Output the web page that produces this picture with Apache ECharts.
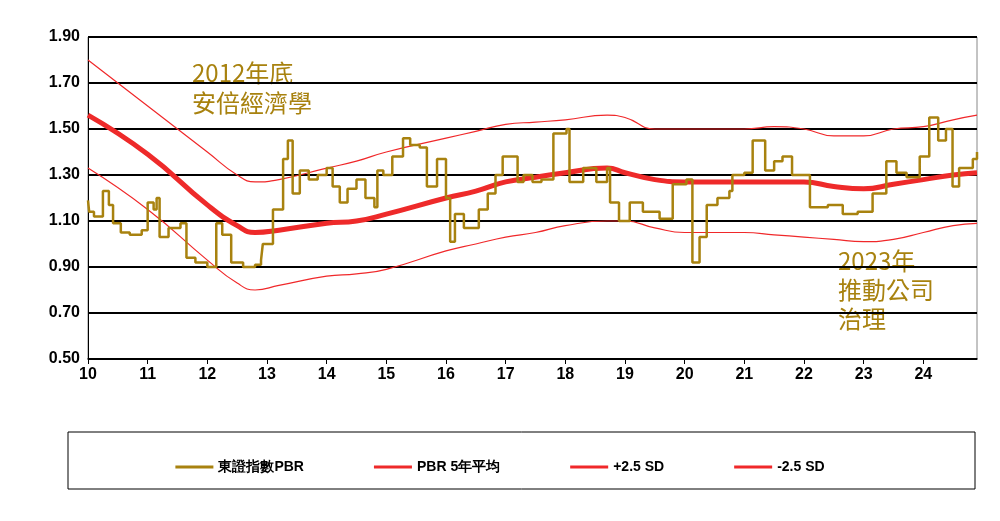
<!DOCTYPE html><html><head><meta charset="utf-8"><script src="https://cdn.jsdelivr.net/npm/echarts@6/dist/echarts.min.js"></script></head><body style="margin:0"><div id="c" style="width:1000px;height:521px"></div><script>
const pbrX=[10,10.02,10.1,10.25,10.35,10.42,10.55,10.7,10.9,11.0,11.1,11.15,11.2,11.35,11.55,11.65,11.8,12.0,12.15,12.25,12.4,12.6,12.8,12.9,12.93,13.1,13.27,13.35,13.43,13.55,13.7,13.85,14.0,14.1,14.22,14.35,14.5,14.65,14.8,14.85,14.95,15.1,15.28,15.4,15.56,15.68,15.85,16.0,16.07,16.15,16.3,16.55,16.7,16.83,16.95,17.2,17.3,17.45,17.6,17.8,18.02,18.07,18.3,18.52,18.7,18.75,18.9,19.08,19.3,19.58,19.8,20.03,20.13,20.25,20.37,20.55,20.75,20.8,21.0,21.14,21.35,21.5,21.64,21.8,22.1,22.4,22.65,22.9,23.15,23.38,23.55,23.72,23.94,24.1,24.25,24.38,24.49,24.6,24.83,24.9];
const pbrY=[1.19,1.14,1.12,1.23,1.17,1.09,1.05,1.04,1.06,1.18,1.15,1.20,1.03,1.07,1.09,0.94,0.92,0.90,1.09,1.04,0.92,0.90,0.91,0.93,1.00,1.15,1.37,1.45,1.22,1.32,1.28,1.30,1.33,1.25,1.18,1.24,1.28,1.20,1.16,1.32,1.30,1.38,1.46,1.43,1.42,1.25,1.37,1.20,1.01,1.13,1.07,1.15,1.22,1.30,1.38,1.27,1.30,1.27,1.28,1.48,1.50,1.27,1.33,1.27,1.33,1.18,1.10,1.18,1.14,1.11,1.26,1.28,0.92,1.03,1.17,1.20,1.23,1.30,1.31,1.45,1.32,1.36,1.38,1.30,1.16,1.17,1.13,1.14,1.22,1.36,1.31,1.29,1.38,1.55,1.45,1.50,1.25,1.33,1.37,1.40];
const bandX=[10,11,12,12.5,12.8,13.2,14,14.5,15,16,16.5,17,17.5,18,18.7,19,19.5,20,20.5,21,21.5,22,22.5,23,23.5,24,24.5,24.9];
const avgY=[1.56,1.39,1.17,1.08,1.05,1.06,1.09,1.10,1.13,1.20,1.23,1.27,1.29,1.31,1.33,1.31,1.28,1.27,1.27,1.27,1.27,1.27,1.25,1.24,1.26,1.28,1.30,1.31];
const upY=[1.80,1.60,1.40,1.30,1.27,1.28,1.33,1.36,1.40,1.46,1.49,1.52,1.53,1.54,1.56,1.55,1.50,1.50,1.50,1.50,1.51,1.50,1.47,1.47,1.50,1.51,1.54,1.56];
const loY=[1.33,1.15,0.93,0.83,0.80,0.82,0.86,0.87,0.89,0.97,1.00,1.03,1.05,1.08,1.10,1.10,1.07,1.05,1.05,1.05,1.04,1.03,1.02,1.01,1.02,1.05,1.08,1.09];
const zip=(a,b)=>a.map((x,i)=>[x,b[i]]);
const gold='#A8820F';
const c=echarts.init(document.getElementById('c'));
c.setOption({animation:false,
grid:{left:88,top:37,right:23,bottom:162,show:true,borderColor:'#888',borderWidth:1},
xAxis:{type:'value',min:10,max:24.9,interval:1,axisLine:{lineStyle:{color:'#000',width:1.5}},axisTick:{lineStyle:{color:'#000'}},splitLine:{show:false},axisLabel:{showMaxLabel:false,color:'#000',fontWeight:'bold',fontSize:16,fontFamily:'Liberation Sans'}},
yAxis:{type:'value',min:0.5,max:1.9,interval:0.2,axisLine:{show:true,lineStyle:{color:'#000'}},axisTick:{show:false},splitLine:{lineStyle:{color:'#000',width:2}},axisLabel:{formatter:v=>v.toFixed(2),color:'#000',fontWeight:'bold',fontSize:16,fontFamily:'Liberation Sans'}},
legend:{bottom:42,left:'center',itemGap:70,textStyle:{color:'#000',fontWeight:'bold',fontSize:14,fontFamily:'Liberation Sans'},
data:[{name:'東證指數PBR',icon:'rect',itemStyle:{color:gold}},{name:'PBR 5年平均',icon:'rect'},{name:'+2.5 SD',icon:'rect'},{name:'-2.5 SD',icon:'rect'}]},
graphic:[{type:'rect',shape:{x:68,y:432,width:907,height:57},style:{fill:'none',stroke:'#000',lineWidth:1}},
{type:'text',left:192,top:58,style:{text:'2012年底\n安倍經濟學',fill:gold,font:'24px "Noto Sans CJK TC"',lineHeight:30,backgroundColor:'#fff'}},
{type:'text',left:838,top:246,style:{text:'2023年\n推動公司\n治理',fill:gold,font:'24px "Noto Sans CJK TC"',lineHeight:29,backgroundColor:'#fff'}}],
series:[
{name:'+2.5 SD',type:'line',data:zip(bandX,upY),smooth:true,symbol:'none',lineStyle:{color:'#F0282A',width:1.2},itemStyle:{color:'#F0282A'}},
{name:'-2.5 SD',type:'line',data:zip(bandX,loY),smooth:true,symbol:'none',lineStyle:{color:'#F0282A',width:1.2},itemStyle:{color:'#F0282A'}},
{name:'PBR 5年平均',type:'line',data:zip(bandX,avgY),smooth:true,symbol:'none',lineStyle:{color:'#EE2A2A',width:5},itemStyle:{color:'#EE2A2A'}},
{name:'東證指數PBR',type:'line',step:'end',data:zip(pbrX,pbrY),symbol:'none',lineStyle:{color:gold,width:2.5},itemStyle:{color:gold},z:5}
]});
// legend icon sizes per item
c.setOption({legend:{itemWidth:38,itemHeight:3}});
</script></body></html>
